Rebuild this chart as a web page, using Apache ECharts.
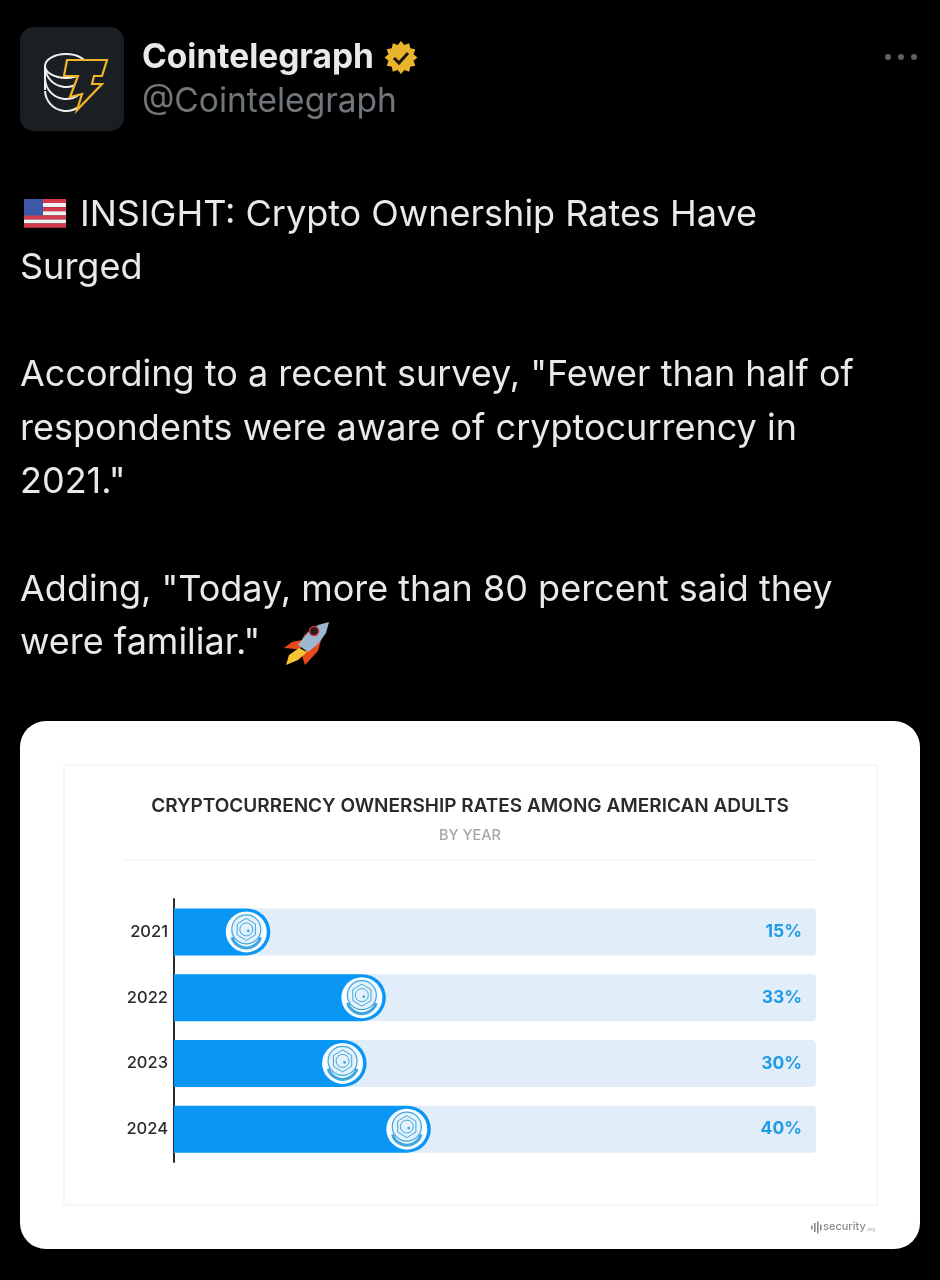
<!DOCTYPE html>
<html>
<head>
<meta charset="utf-8">
<style>html,body{margin:0;padding:0;background:#000}#c{width:940px;height:1280px}</style>
<script src="https://cdn.jsdelivr.net/npm/echarts@6/dist/echarts.min.js"></script>
</head>
<body>
<div id="c"></div>
<script>
const years = ['2021', '2022', '2023', '2024'];
const ownershipRates = [15, 33, 30, 40];
const fullScale = [100, 100, 100, 100];
const chartTitle = 'CRYPTOCURRENCY OWNERSHIP RATES AMONG AMERICAN ADULTS';
const chartSubtitle = 'BY YEAR';
const accountName = 'Cointelegraph';
const accountHandle = '@Cointelegraph';
const tweetLines = [
  ['INSIGHT: Crypto Ownership Rates Have', 80, 215],
  ['Surged', 20, 268],
  ['According to a recent survey, "Fewer than half of', 20, 375],
  ['respondents were aware of cryptocurrency in', 20, 429],
  ['2021."', 20, 482],
  ['Adding, "Today, more than 80 percent said they', 20, 590],
  ['were familiar."', 20, 643]
];
const BODY_FONT = 'Inter, "Noto Sans", sans-serif';
const CHART_FONT = 'Inter, Lato, sans-serif';
const BLUE = '#0a96f5', TRACK = '#e1edf9', ICON = '#3fa6de';

function txt(text, x, y, size, color, weight, align, family) {
  return {type:'text', x, y, silent:true, style:{text, fill:color, fontSize:size, fontWeight:weight||400,
    fontFamily:family||BODY_FONT, textAlign:align||'left', textVerticalAlign:'middle'}};
}
function poly(points, fill, stroke, lw) {
  return {type:'polygon', silent:true, shape:{points}, style:{fill:fill||'none', stroke:stroke||'none', lineWidth:lw||0}};
}

const g = [];
// card and frame
g.push({type:'rect', silent:true, shape:{x:20,y:721,width:900,height:528,r:26}, style:{fill:'#fff'}, z:-10});
g.push({type:'rect', silent:true, shape:{x:64,y:765,width:813,height:440}, style:{fill:'#fff',stroke:'#efeff1',lineWidth:1}, z:-9});
g.push({type:'line', silent:true, shape:{x1:123,y1:860,x2:815,y2:860}, style:{stroke:'#f1f1f3',lineWidth:1}, z:-9});
// avatar
g.push({type:'rect', silent:true, shape:{x:20,y:27,width:104,height:104,r:14}, style:{fill:'#1a1f23'}});
[66,78,90].forEach(y => {
  g.push({type:'arc', silent:true, shape:{cx:66,cy:y+0,r:21,startAngle:0.15,endAngle:Math.PI-0.05}, style:{stroke:'#f2f2f2',fill:'none',lineWidth:2}});
});
g.push({type:'ellipse', silent:true, shape:{cx:66,cy:66,rx:21,ry:12}, style:{stroke:'#f2f2f2',fill:'#1a1f23',lineWidth:2}});
g.push({type:'line', silent:true, shape:{x1:45,y1:66,x2:45,y2:90}, style:{stroke:'#f2f2f2',lineWidth:2}});
g.push(poly([[67,60],[107,60],[102,76],[94,76],[92,84],[102,84],[77,110],[82,94],[70,97],[78,76],[64,76]], '#1a1f23', '#f0b429', 2.2));
// names
g.push(txt(accountName, 142, 58, 33.5, '#e7e9ea', 700));
g.push(txt(accountHandle, 142, 102, 33.5, '#71767b', 400));
// verified badge
const badge = [];
for (let i = 0; i < 24; i++) {
  const r = i % 2 ? 13 : 16.5, a = i * Math.PI / 12;
  badge.push([401 + r * Math.cos(a), 57.5 + r * Math.sin(a)]);
}
g.push(poly(badge, '#e9b52f'));
g.push({type:'polyline', silent:true, shape:{points:[[394,58],[399,63],[408,53]]}, style:{stroke:'#1c1a10',fill:'none',lineWidth:3}});
// menu dots
[888,901,914].forEach(x => g.push({type:'circle', silent:true, shape:{cx:x,cy:57,r:3}, style:{fill:'#5b6065'}}));
// tweet text
tweetLines.forEach(l => g.push(txt(l[0], l[1], l[2], 36, '#e7e9ea', 400)));
// flag
for (let i = 0; i < 7; i++) {
  g.push({type:'rect', silent:true, shape:{x:24,y:199+i*4.1,width:42,height:4.1}, style:{fill:i%2?'#f1f1f4':'#d63a4a'}});
}
g.push({type:'rect', silent:true, shape:{x:24,y:199,width:19,height:16.4}, style:{fill:'#3e57a8'}});
// rocket
g.push(poly([[307,629],[302,640],[292,642],[284,648],[296,649],[300,650]], '#e84a1c'));
g.push(poly([[310,646],[322,637],[318,651],[305,665],[302,656]], '#e84a1c'));
g.push(poly([[299,648],[307,652],[298,660],[286,665],[289,655]], '#f6c531'));
g.push(poly([[298,645],[308,632],[318,625],[329,622],[326,633],[318,644],[308,652]], '#9db7cf'));
g.push({type:'circle', silent:true, shape:{cx:314,cy:631,r:4.5}, style:{fill:'#2b1a22',stroke:'#c8323a',lineWidth:1.5}});
// chart title / sub
g.push(txt(chartTitle, 470, 806, 19, '#2a2a2e', 600, 'center', CHART_FONT));
g.push(txt(chartSubtitle, 470, 836, 14.5, '#a6a6ab', 500, 'center', CHART_FONT));
// source mark
[[811,4],[814,9],[817,12],[820,6]].forEach(b => g.push({type:'rect', silent:true, shape:{x:b[0],y:1227.5-b[1]/2,width:1.6,height:b[1]}, style:{fill:'#8a8a8a'}}));
g.push(txt('security', 823, 1227, 11, '#8c8c8c', 500, 'left', CHART_FONT));
g.push(txt('.org', 866, 1229, 5, '#a5a5a5', 400, 'left', CHART_FONT));

function coinItem(params, api) {
  const end = api.coord([api.value(0), api.value(1)]);
  const cx = end[0] - 24, cy = end[1];
  const hex = [];
  for (let i = 0; i < 6; i++) {
    const a = Math.PI / 6 + i * Math.PI / 3;
    hex.push([cx + 10.5 * Math.cos(a), cy - 2.5 + 11 * Math.sin(a)]);
  }
  const st = {fill:'none', stroke:ICON, lineWidth:1};
  return {type:'group', children:[
    {type:'circle', shape:{cx, cy, r:20.5}, style:{fill:'#f7fcff'}},
    {type:'circle', shape:{cx, cy:cy-2.5, r:14.5}, style:{fill:'#e3f2fb', stroke:ICON, lineWidth:1.2}},
    {type:'arc', shape:{cx, cy:cy+1, r:15, startAngle:0.3, endAngle:Math.PI-0.3}, style:{fill:'none', stroke:ICON, lineWidth:3}},
    {type:'polygon', shape:{points:hex}, style:st},
    {type:'circle', shape:{cx, cy:cy-2.5, r:6.5}, style:st},
    {type:'circle', shape:{cx:cx+2, cy:cy-1, r:1.4}, style:{fill:ICON}}
  ]};
}

const chart = echarts.init(document.getElementById('c'));
chart.setOption({
  backgroundColor:'#000',
  animation:false,
  graphic:{elements:g},
  grid:{left:174, right:124, top:899, bottom:118},
  xAxis:{type:'value', min:0, max:100, show:false},
  yAxis:{type:'category', data:years, inverse:true,
    axisLine:{show:true, lineStyle:{color:'#2b2b2b', width:2}},
    axisTick:{show:false},
    axisLabel:{color:'#2a2a2e', fontSize:16.5, margin:6, fontFamily:CHART_FONT, fontWeight:500}},
  series:[
    {type:'bar', data:fullScale, barWidth:47, barGap:'-100%', silent:true,
      itemStyle:{color:TRACK, borderRadius:[0,4,4,0]},
      label:{show:true, position:'insideRight', distance:14, color:'#1f9ce4', fontWeight:700, fontSize:17.5, fontFamily:CHART_FONT,
        formatter:p => ownershipRates[p.dataIndex] + '%'}},
    {type:'bar', data:ownershipRates, barWidth:47, barGap:'-100%', silent:true,
      itemStyle:{color:BLUE, borderRadius:[0,23.5,23.5,0]}},
    {type:'custom', silent:true, z:5, renderItem:coinItem,
      encode:{x:0, y:1},
      data:ownershipRates.map((v,i) => [v, i])}
  ]
});
</script>
</body>
</html>
